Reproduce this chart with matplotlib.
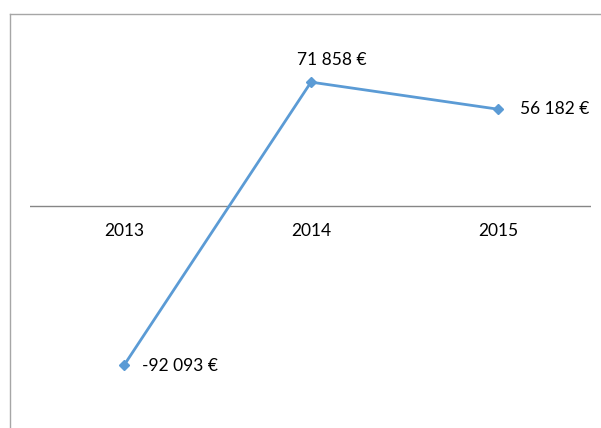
import numpy as np
import matplotlib.pyplot as plt
from matplotlib.lines import Line2D

years = ['2013', '2014', '2015']
values = [-92093, 71858, 56182]
labels = ['-92 093 €', '71 858 €', '56 182 €']

plt.rcParams['font.family'] = ['Lato', 'DejaVu Sans']

W, H = 601, 428
fig = plt.figure(figsize=(W / 100, H / 100), dpi=100)

# outer chart frame (cropped on right and bottom)
fig.add_artist(Line2D([10.5 / W, 10.5 / W], [0, 1 - 14 / H], color='#a6a6a6', lw=1))
fig.add_artist(Line2D([10.5 / W, 1], [1 - 14 / H, 1 - 14 / H], color='#a6a6a6', lw=1))

top, bottom = 33.5, 379
ax = fig.add_axes([30.5 / W, 1 - bottom / H, 561 / W, (bottom - top) / H])
ax.set_xlim(-0.5, 2.5)
ax.set_ylim(-100000, 100000)
for s in ax.spines.values():
    s.set_visible(False)
ax.set_xticks([])
ax.set_yticks([])

ax.axhline(0, color='#868686', lw=1)

x = np.arange(len(years))
ax.plot(x, values, color='#5b9bd5', lw=2, marker='D', markersize=5.5, zorder=3)

for xi, yr in zip(x, years):
    ax.annotate(yr, (xi, 0), xytext=(0, -25), textcoords='offset pixels',
                ha='center', va='center', fontsize=12.5, color='black')

offsets = [(18, -1), (21, 22), (22, 0)]
aligns = ['left', 'center', 'left']
for xi, v, lab, off, al in zip(x, values, labels, offsets, aligns):
    ax.annotate(lab, (xi, v), xytext=off, textcoords='offset pixels',
                ha=al, va='center', fontsize=12.5, color='black')

fig.savefig('out.png', dpi=100)
